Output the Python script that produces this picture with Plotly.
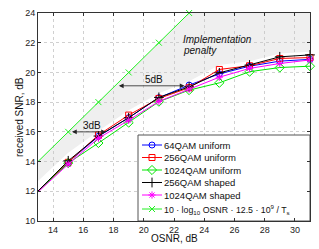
import plotly.graph_objects as go

# ---------------- data ----------------
osnr = [13, 15, 17, 19, 21, 23, 25, 27, 29, 31]
snr_64qam_u = [12.0, 13.95, 15.70, 16.95, 18.30, 19.15, 19.90, 20.42, 20.76, 20.88]
snr_256qam_u = [12.0, 13.95, 15.79, 17.13, 18.25, 18.97, 20.20, 20.45, 20.94, 21.00]
snr_1024qam_u = [12.0, 13.90, 15.25, 16.62, 18.03, 18.81, 19.30, 20.05, 20.33, 20.42]
snr_256qam_s = [12.02, 14.05, 15.72, 16.95, 18.32, 19.03, 19.97, 20.50, 21.05, 21.18]
snr_1024qam_s = [11.95, 13.82, 15.57, 16.78, 18.05, 18.88, 19.68, 20.27, 20.60, 20.84]
osnr_theory = [13, 15, 17, 19, 21, 23]
snr_theory = [14, 16, 18, 20, 22, 24]
penalty_lower = [12.7, 14.6, 16.05, 17.45, 18.6, 19.4, 20.5, 20.75, 21.27, 21.4]

names = ["64QAM uniform", "256QAM uniform", "1024QAM uniform",
         "256QAM shaped", "1024QAM shaped",
         "10 · log<sub>10</sub> OSNR · 12.5 · 10<sup>9</sup> / T<sub>s</sub>"]
x_ticks = [14, 16, 18, 20, 22, 24, 26, 28, 30]
y_ticks = [10, 12, 14, 16, 18, 20, 22, 24]
x_range = [13, 31]
y_range = [10, 24]

# ---------------- styles ----------------
FONT = "Liberation Sans, Arial, sans-serif"
colors = ["#0000ff", "#ff0000", "#00e600", "#000000", "#ff00ff", "#22f022"]
symbols = ["circle-open", "square-open", "diamond-open", "cross-thin-open",
           "asterisk-open", "x-thin-open"]
msizes = [6, 6, 7, 7, 6, 6]
legend_fs = [9.5, 9.5, 9.5, 9.5, 9.5, 8.8]
series = [snr_64qam_u, snr_256qam_u, snr_1024qam_u, snr_256qam_s, snr_1024qam_s]

fig = go.Figure()

# shaded implementation-penalty region (drawn under grid)
pts = list(zip(osnr_theory, snr_theory)) + [(x_range[1], y_range[1])] + \
      list(zip(osnr[::-1], penalty_lower[::-1]))
path = "M " + " L ".join(f"{a},{b}" for a, b in pts) + " Z"
fig.add_shape(type="path", path=path, xref="x", yref="y", layer="below",
              fillcolor="#efefef", line=dict(width=0))

# theory line
fig.add_trace(go.Scatter(
    x=osnr_theory, y=snr_theory, mode="lines+markers",
    line=dict(color=colors[5], width=1),
    marker=dict(symbol=symbols[5], size=msizes[5], color=colors[5],
                line=dict(color=colors[5], width=1),
                opacity=[0] + [1] * (len(osnr_theory) - 1)),
    cliponaxis=False, showlegend=False))

# measured curves
for i, s in enumerate(series):
    fig.add_trace(go.Scatter(
        x=osnr, y=s, mode="lines+markers",
        line=dict(color=colors[i], width=1),
        marker=dict(symbol=symbols[i], size=msizes[i], color=colors[i],
                    line=dict(color=colors[i], width=1),
                    opacity=[0] + [1] * (len(osnr) - 1)),
        cliponaxis=False, showlegend=False))

# ---------------- custom legend (overlay axis in [0,1]) ----------------
H_PLOT = 208.0
W_PLOT = 272.0
box_l, box_r, box_t = (138 - 38) / W_PLOT, 1.0, (221 - 135) / H_PLOT
fig.add_trace(go.Scatter(
    x=[box_l, box_r, box_r, box_l, box_l], y=[0, 0, box_t, box_t, 0],
    mode="lines", fill="toself", fillcolor="white",
    line=dict(color="#555", width=1), xaxis="x2", yaxis="y2",
    showlegend=False, hoverinfo="skip"))
row_px = [145 + 12.5 * i for i in range(5)] + [209]
line_x = [(142 - 38) / W_PLOT, (152 - 38) / W_PLOT, (162 - 38) / W_PLOT]
text_x = (162 - 38) / W_PLOT
for k in range(6):
    yy = (221 - row_px[k]) / H_PLOT
    fig.add_trace(go.Scatter(
        x=line_x, y=[yy] * 3, mode="lines+markers",
        line=dict(color=colors[k], width=1),
        marker=dict(symbol=symbols[k], size=msizes[k], color=colors[k],
                    line=dict(color=colors[k], width=1), opacity=[0, 1, 0]),
        xaxis="x2", yaxis="y2", cliponaxis=False, showlegend=False,
        hoverinfo="skip"))
    fig.add_annotation(x=text_x, y=yy, xref="paper", yref="paper",
                       text=names[k], showarrow=False, xanchor="left",
                       yanchor="middle", font=dict(size=legend_fs[k], color="#111"))

# ---------------- arrows & labels ----------------
arrow = dict(showarrow=True, arrowside="end+start", arrowhead=2,
             startarrowhead=2, arrowsize=1.2, startarrowsize=1.2,
             arrowwidth=0.8, arrowcolor="#222", axref="x", ayref="y",
             xref="x", yref="y", text=" ", standoff=0, startstandoff=0)
fig.add_annotation(x=17.5, y=16.0, ax=15.05, ay=16.0, **arrow)
fig.add_annotation(x=22.7, y=19.1, ax=18.15, ay=19.1, **arrow)
fig.add_annotation(x=16.6, y=16.42, text="3dB", showarrow=False,
                   font=dict(size=10, color="#111"))
fig.add_annotation(x=20.7, y=19.52, text="5dB", showarrow=False,
                   font=dict(size=10, color="#111"))
fig.add_annotation(x=22.45, y=22.21, text="<i>Implementation</i>",
                   showarrow=False, xanchor="left", font=dict(size=10, color="#111"))
fig.add_annotation(x=22.45, y=21.45, text="<i>penalty</i>",
                   showarrow=False, xanchor="left", font=dict(size=10, color="#111"))

# axis titles as annotations for exact placement
fig.add_annotation(x=(19 - 38) / W_PLOT, y=0.5, xref="paper", yref="paper",
                   text="received SNR, dB", textangle=-90, showarrow=False,
                   xanchor="center", yanchor="middle", font=dict(size=10, color="#111"))
fig.add_annotation(x=0.5, y=(221 - 239) / H_PLOT, xref="paper", yref="paper",
                   text="OSNR, dB", showarrow=False,
                   xanchor="center", yanchor="middle", font=dict(size=10, color="#111"))

axis_common = dict(showline=True, linecolor="#333", linewidth=1, mirror="ticks",
                   ticks="inside", ticklen=3, tickcolor="#333",
                   showgrid=True, gridcolor="#c4c4c4", gridwidth=0.8,
                   griddash="dot", zeroline=False,
                   tickfont=dict(size=9, color="#222"))
fig.update_layout(
    width=319, height=249,
    margin=dict(l=38, r=9, t=13, b=28),
    paper_bgcolor="white", plot_bgcolor="white",
    font=dict(family=FONT, size=10, color="#111"),
    xaxis=dict(range=x_range, tickvals=x_ticks, **axis_common),
    yaxis=dict(range=y_range, tickvals=y_ticks, **axis_common),
    xaxis2=dict(overlaying="x", range=[0, 1], visible=False, fixedrange=True),
    yaxis2=dict(overlaying="y", range=[0, 1], visible=False, fixedrange=True),
)

fig.write_html("out.html",
               config={"displayModeBar": False, "staticPlot": True},
               post_script="document.body.style.margin='0';"
                           "document.body.style.overflow='hidden';")
